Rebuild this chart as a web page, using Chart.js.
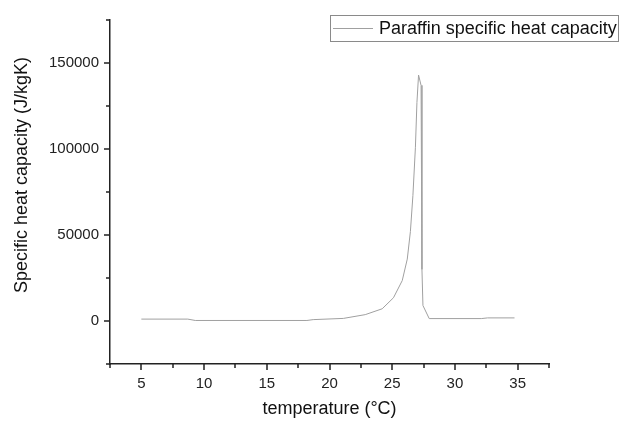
<!DOCTYPE html>
<html>
<head>
<meta charset="utf-8">
<script src="https://cdn.jsdelivr.net/npm/chart.js@4"></script>
<style>
html,body{margin:0;padding:0;background:#fff;overflow:hidden;}
#wrap{width:620px;height:421px;position:relative;}
</style>
</head>
<body>
<div id="wrap"><canvas id="c" width="620" height="421"></canvas></div>
<script>
const seriesLabel = "Paraffin specific heat capacity";
const temperatures = [5, 8.7, 9.3, 18.2, 18.7, 21.1, 22.85, 24.2, 25.1, 25.8, 26.2, 26.45, 26.65, 26.85, 26.97, 27.1, 27.3, 27.37, 27.45, 27.95, 32.1, 32.6, 34.75];
const heatCapacity = [1100, 1100, 300, 300, 800, 1500, 3700, 7100, 13500, 23500, 36000, 52000, 73000, 101000, 127000, 143000, 137000, 30000, 9000, 1400, 1400, 1800, 1800];
const xMajorTicks = [5, 10, 15, 20, 25, 30, 35];
const xMinorTicks = [2.5, 7.5, 12.5, 17.5, 22.5, 27.5, 32.5, 37.5];
const yMajorTicks = [0, 50000, 100000, 150000];
const yMinorTicks = [-25000, 25000, 75000, 125000, 175000];
const xTitle = "temperature (°C)";
const yTitle = "Specific heat capacity (J/kgK)";

const FONT = "'Liberation Sans', Arial, sans-serif";
const AXIS_COLOR = '#222';
const LINE_COLOR = '#a0a0a0';

const tickPlugin = {
  id: 'ticksAndLegend',
  afterDraw(chart) {
    const ctx = chart.ctx;
    const xs = chart.scales.x, ys = chart.scales.y;
    const area = chart.chartArea;
    ctx.save();
    ctx.strokeStyle = AXIS_COLOR;
    ctx.lineWidth = 1.5;
    ctx.beginPath();
    xMajorTicks.forEach(v => { const p = Math.round(xs.getPixelForValue(v)); ctx.moveTo(p, area.bottom); ctx.lineTo(p, area.bottom + 6); });
    xMinorTicks.forEach(v => { const p = Math.round(xs.getPixelForValue(v)); ctx.moveTo(p, area.bottom); ctx.lineTo(p, area.bottom + 4); });
    yMajorTicks.forEach(v => { const p = Math.round(ys.getPixelForValue(v)); ctx.moveTo(area.left, p); ctx.lineTo(area.left - 6, p); });
    yMinorTicks.forEach(v => { const p = Math.round(ys.getPixelForValue(v)); ctx.moveTo(area.left, p); ctx.lineTo(area.left - 4, p); });
    ctx.stroke();
    // axis titles
    ctx.fillStyle = '#111';
    ctx.font = "18px " + FONT;
    ctx.textBaseline = 'middle';
    ctx.textAlign = 'center';
    ctx.fillText(xTitle, (area.left + area.right) / 2, 409);
    ctx.save();
    ctx.translate(22, 175);
    ctx.rotate(-Math.PI / 2);
    ctx.fillText(yTitle, 0, 0);
    ctx.restore();
    // legend
    const bx = 330.5, by = 15.5, bw = 288, bh = 26;
    ctx.strokeStyle = '#8a8a8a';
    ctx.lineWidth = 1;
    ctx.strokeRect(bx, by, bw, bh);
    ctx.strokeStyle = LINE_COLOR;
    ctx.beginPath();
    ctx.moveTo(333, 28.5); ctx.lineTo(373, 28.5);
    ctx.stroke();
    ctx.fillStyle = '#111';
    ctx.font = "18px " + FONT;
    ctx.textBaseline = 'middle';
    ctx.textAlign = 'left';
    ctx.fillText(chart.data.datasets[0].label, 379, 29);
    ctx.restore();
  }
};

new Chart(document.getElementById('c'), {
  type: 'line',
  data: {
    datasets: [{
      label: seriesLabel,
      data: temperatures.map((t, i) => ({x: t, y: heatCapacity[i]})),
      borderColor: LINE_COLOR,
      borderWidth: 1,
      pointRadius: 0,
      tension: 0,
      fill: false
    }]
  },
  options: {
    responsive: false,
    animation: false,
    layout: {padding: {top: 10, right: 71, left: 0, bottom: 0}},
    plugins: {legend: {display: false}, tooltip: {enabled: false}},
    scales: {
      x: {
        type: 'linear', min: 2.5, max: 37.5,
        afterBuildTicks(s) { s.ticks = xMajorTicks.map(v => ({value: v})); },
        afterFit(s) { s.height = 57; },
        grid: {display: false, drawTicks: false, tickLength: 0},
        border: {display: true, color: AXIS_COLOR, width: 1.5},
        ticks: {padding: 11, color: '#222', font: {family: FONT, size: 15}, maxRotation: 0, autoSkip: false},
        title: {display: false}
      },
      y: {
        type: 'linear', min: -25000, max: 175000,
        afterBuildTicks(s) { s.ticks = yMajorTicks.map(v => ({value: v})); },
        afterFit(s) { s.width = 110; },
        grid: {display: false, drawTicks: false, tickLength: 0},
        border: {display: true, color: AXIS_COLOR, width: 1.5},
        ticks: {padding: 11, color: '#222', font: {family: FONT, size: 15}, callback: v => String(v)},
        title: {display: false}
      }
    }
  },
  plugins: [tickPlugin]
});
</script>
</body>
</html>
